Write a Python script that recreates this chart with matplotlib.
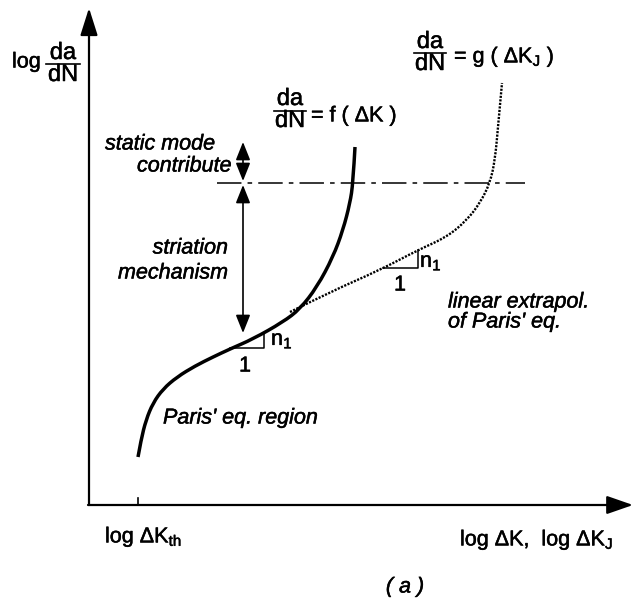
import matplotlib
matplotlib.use("Agg")
import matplotlib.pyplot as plt
from matplotlib.path import Path
from matplotlib.patches import PathPatch
import matplotlib.patheffects as pe

plt.rcParams['font.family'] = ['Liberation Sans', 'DejaVu Sans']
plt.rcParams['mathtext.fontset'] = 'custom'
plt.rcParams['mathtext.rm'] = 'Liberation Sans'
plt.rcParams['mathtext.it'] = 'Liberation Sans:italic'

# ---- schematic data (figure pixel space, y downward) ----
f_x = [138, 141, 146, 153, 163, 177, 195, 213, 230, 253, 283, 300, 317, 333, 343, 350, 353, 355]
f_y = [457, 440, 420, 403, 389, 377, 366, 357, 349, 339, 322, 309, 287, 257, 230, 203, 183, 147]
g_x = [290, 330, 380, 418, 447, 467, 480, 490, 495, 498, 502]
g_y = [312, 292, 270, 250, 237, 220, 203, 183, 160, 127, 83]
threshold_y = 183
threshold_span = [217, 525]
axis_origin = (89, 505)
axis_xmax = 633
axis_ymax = 8
kth_x = 138
arrow_x = 243
static_top = 142
striation_bottom = 333
tri1 = [(230, 348), (264, 348), (264, 333)]
tri2 = [(383, 268), (418, 268), (418, 250)]

W, H = 633, 604
fig = plt.figure(figsize=(W / 100, H / 100), dpi=100)
ax = fig.add_axes([0, 0, 1, 1])
ax.set_xlim(0, W)
ax.set_ylim(H, 0)
ax.axis('off')

FS = 15.5
FFS = 17
heavy = [pe.withStroke(linewidth=0.35, foreground='black')]


def smooth_path(xs, ys):
    """Quadratic Bezier path using the read points as control points."""
    pts = list(zip(xs, ys))
    verts = [pts[0]]
    codes = [Path.MOVETO]
    for i in range(1, len(pts) - 1):
        mid = ((pts[i][0] + pts[i + 1][0]) / 2, (pts[i][1] + pts[i + 1][1]) / 2)
        if i == len(pts) - 2:
            mid = pts[-1]
        verts += [pts[i], mid]
        codes += [Path.CURVE3, Path.CURVE3]
    return Path(verts, codes)


# axes with arrows
ox, oy = axis_origin
ax.annotate('', xy=(ox, axis_ymax), xytext=(ox, oy),
            arrowprops=dict(arrowstyle='-|>,head_length=1.2,head_width=0.38', lw=1.6,
                            color='black', shrinkA=0, shrinkB=0, mutation_scale=14))
ax.annotate('', xy=(axis_xmax, oy), xytext=(ox - 1, oy),
            arrowprops=dict(arrowstyle='-|>,head_length=1.15,head_width=0.4', lw=1.6,
                            color='black', shrinkA=0, shrinkB=0, mutation_scale=14))
ax.plot([kth_x, kth_x], [oy - 7, oy], color='black', lw=1.2)

# curves
ax.add_patch(PathPatch(smooth_path(f_x, f_y), fill=False, edgecolor='black', lw=2.5,
                       capstyle='butt', joinstyle='round'))
ax.add_patch(PathPatch(smooth_path(g_x, g_y), fill=False, edgecolor='black', lw=1.7,
                       linestyle=(0, (0.9, 0.6))))

# threshold dash-dot
ax.plot(threshold_span, [threshold_y, threshold_y], color='black', lw=1.1,
        linestyle=(0, (16, 4, 3, 4)))

# vertical double arrows
ap = dict(arrowstyle='<|-|>,head_length=0.55,head_width=0.22', lw=1.2, color='black',
          shrinkA=0, shrinkB=0, mutation_scale=20)
ax.annotate('', xy=(arrow_x, static_top), xytext=(arrow_x, threshold_y - 2), arrowprops=ap)
ax.annotate('', xy=(arrow_x, striation_bottom), xytext=(arrow_x, threshold_y + 2), arrowprops=ap)

# slope triangles
for tri in (tri1, tri2):
    xs = [p[0] for p in tri]
    ys = [p[1] for p in tri]
    ax.plot(xs, ys, color='black', lw=1.1)


def txt(x, y, s, size=FS, **kw):
    t = ax.text(x, y, s, fontsize=size, va='center', **kw)
    t.set_path_effects(heavy)
    return t


# slope labels
txt(271, 340, r'n$_1$', ha='left')
txt(245, 366, '1', ha='center')
txt(420, 262, r'n$_1$', ha='left')
txt(400, 285, '1', ha='center')


# fractions
def frac(cx, y_top, y_bot, y_line, half):
    txt(cx, y_top, 'da', size=FFS, ha='center')
    txt(cx, y_bot, 'dN', size=FFS, ha='center')
    ax.plot([cx - half, cx + half], [y_line, y_line], color='black', lw=1.2)


txt(12, 62, 'log', ha='left')
frac(63, 53, 75, 64, 17)

frac(290, 99, 121, 111, 16)
txt(311, 116, r'= f ( $\Delta$K )', ha='left')

frac(430, 42, 64, 53, 16)
txt(454, 57, r'= g ( $\Delta$K$_\mathrm{J}$ )', ha='left')

# italic annotations
txt(105, 144, 'static mode', style='italic', ha='left')
txt(137, 166, 'contribute', style='italic', ha='left')
txt(228, 248, 'striation', style='italic', ha='right')
txt(228, 273, 'mechanism', style='italic', ha='right')
txt(163, 418, "Paris' eq. region", style='italic', ha='left')
txt(448, 302, 'linear extrapol.', style='italic', ha='left')
txt(448, 322, "of Paris' eq.", style='italic', ha='left')

# axis labels
txt(105, 537, r'log $\Delta$K$_\mathrm{th}$', ha='left')
txt(460, 540, r'log $\Delta$K,  log $\Delta$K$_\mathrm{J}$', ha='left')
txt(405, 587, '( a )', style='italic', ha='center')

fig.savefig('out.png', dpi=100)
